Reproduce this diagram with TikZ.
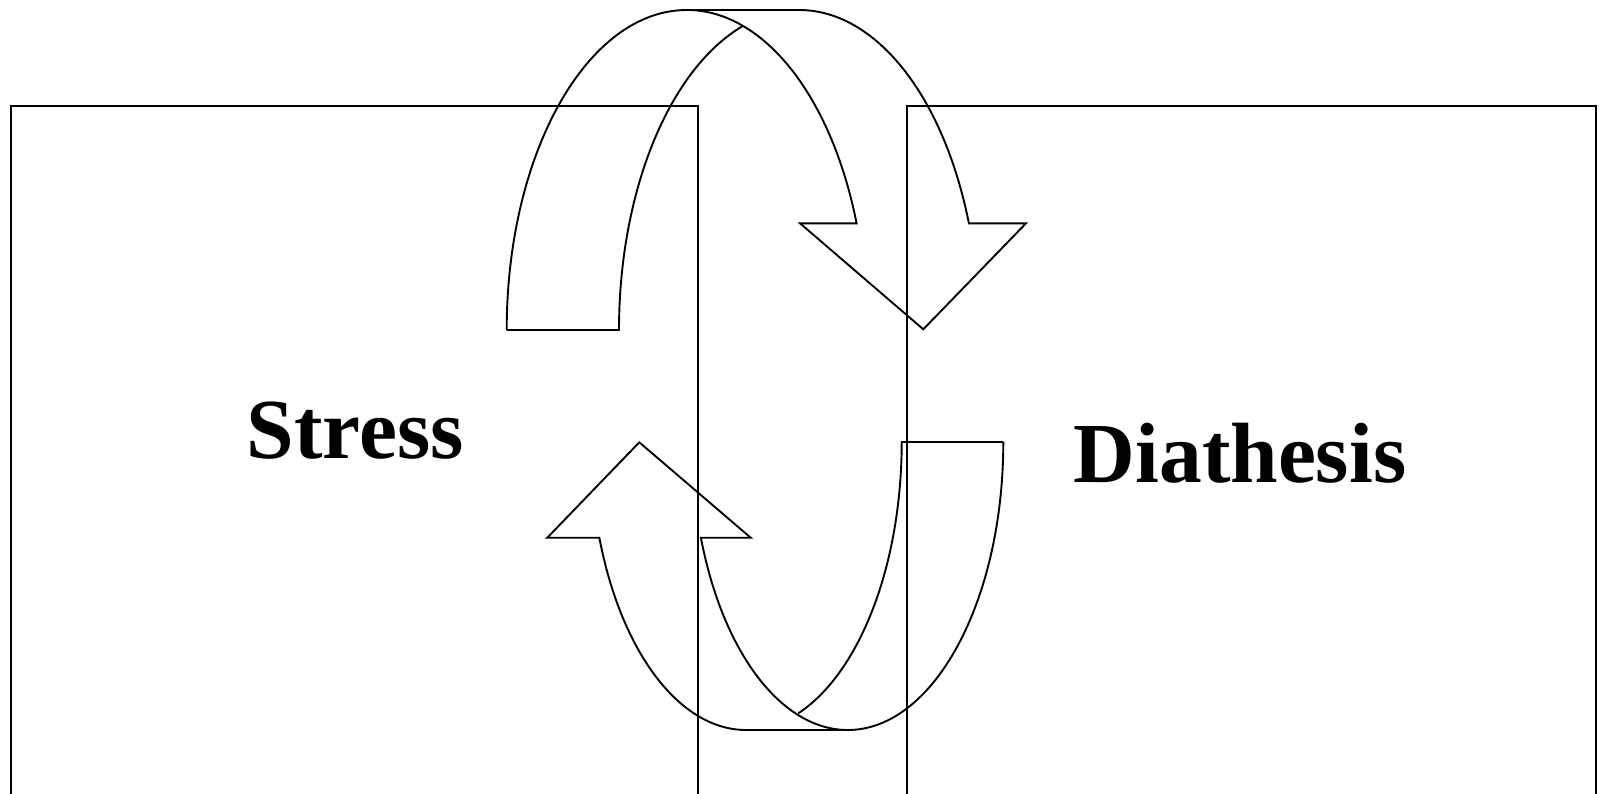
\documentclass[tikz,border=0pt]{standalone}
\usepackage{fontspec}
\setmainfont{Liberation Serif}
\tikzset{
  boxline/.style={draw=black, line width=2.3pt},
  arrowline/.style={draw=black, line width=1.9pt, line join=miter},
  biglabel/.style={inner sep=0pt, anchor=base, font=\fontsize{85.5}{94}\selectfont\bfseries}
}
\begin{document}
\begin{tikzpicture}[x=1pt,y=1pt]
\useasboundingbox (0,0) rectangle (1606,-793);
\clip (0,0) rectangle (1606,-793);
\fill[white] (0,0) rectangle (1606,-793);
% boxes
\draw[boxline] (10.7,-810) -- (10.7,-105.7) -- (697.7,-105.7) -- (697.7,-810);
\draw[boxline] (907,-810) -- (907,-105.7) -- (1595.7,-105.7) -- (1595.7,-810);
% labels
\node[biglabel] (stress) at (355.2,-458) {Stress};
\node[biglabel] (diathesis) at (1240,-482) {Diathesis};
% top curved arrow (ellipse A centre 686.8, ellipse B centre 799.1, cy -330)
\draw[arrowline] (506.7,-330) arc[start angle=180, end angle=90, x radius=180.1, y radius=320]
  -- (799.1,-10) arc[start angle=90, end angle=19.47, x radius=180.1, y radius=320]
  -- (1026,-223.3) -- (923.3,-329.3) -- (800,-223.3) -- (856.6,-223.3)
  arc[start angle=19.47, end angle=90, x radius=180.1, y radius=320];
\draw[arrowline] (506.7,-330) -- (619,-330)
  arc[start angle=180, end angle=108.2, x radius=180.1, y radius=320];
% bottom curved arrow (ellipse D centre 746.1, ellipse C centre 847.7, cy -442)
\draw[arrowline] (1003.3,-442) arc[start angle=0, end angle=-90, x radius=155.6, y radius=288]
  -- (746.1,-730) arc[start angle=270, end angle=199.41, x radius=155.6, y radius=288]
  -- (547.3,-537.7) -- (639.3,-442.3) -- (750.7,-537.7) -- (700.9,-537.7)
  arc[start angle=199.41, end angle=270, x radius=155.6, y radius=288];
\draw[arrowline] (1003.3,-442) -- (901.7,-442)
  arc[start angle=0, end angle=-70.4, x radius=155.6, y radius=288];
\end{tikzpicture}
\end{document}
